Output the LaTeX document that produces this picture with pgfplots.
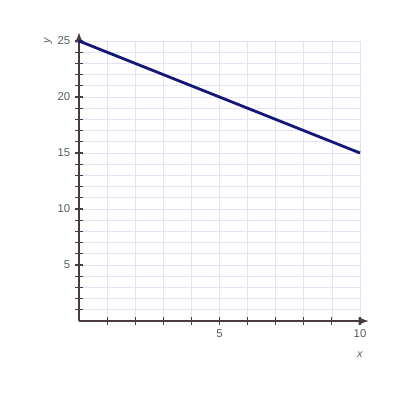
\documentclass[border=0pt]{standalone}
\usepackage{pgfplots}
\pgfplotsset{compat=1.18}
\usetikzlibrary{arrows.meta}
\usepackage{fontspec}
\setmainfont{Liberation Sans}
\definecolor{gridc}{HTML}{E3E3F3}
\definecolor{axc}{HTML}{4A3C3C}
\definecolor{linec}{HTML}{16167A}
\definecolor{txtc}{HTML}{5A5A5A}
\begin{document}
\begin{tikzpicture}
  \useasboundingbox (-59.25pt,-59.25pt) rectangle (240.75pt,240.75pt);
  \begin{axis}[
    at={(0,0)}, anchor=south west,
    scale only axis,
    width=210.75pt, height=210pt,
    xmin=0, xmax=10, ymin=0, ymax=25,
    axis lines=left,
    axis line style={axc, line width=0.9pt, -{Latex[length=7.5pt,width=6pt]}, shorten >=-6.5pt},
    xtick={5,10}, minor xtick={1,2,3,4,6,7,8,9},
    ytick={5,10,15,20,25}, minor ytick={1,...,24},
    tick align=center,
    major tick length=6pt, minor tick length=6pt,
    tick style={axc, line width=0.8pt},
    grid=both,
    major grid style={gridc, line width=0.6pt},
    minor grid style={gridc, line width=0.6pt},
    ticklabel style={font=\fontsize{8.5}{10}\selectfont, text=txtc},
    /pgf/number format/assume math mode=true,
    xlabel={\textit{x}}, ylabel={\textit{y}},
    label style={font=\fontsize{8}{9}\selectfont, text=txtc},
    xlabel style={at={(axis description cs:1,-0.121)}, anchor=center},
    ylabel style={at={(axis description cs:-0.11,1)}, anchor=center},
    clip=false,
  ]
    \addplot[linec, line width=2.1pt] coordinates {(0,25) (10,15)};
  \end{axis}
\end{tikzpicture}
\end{document}
